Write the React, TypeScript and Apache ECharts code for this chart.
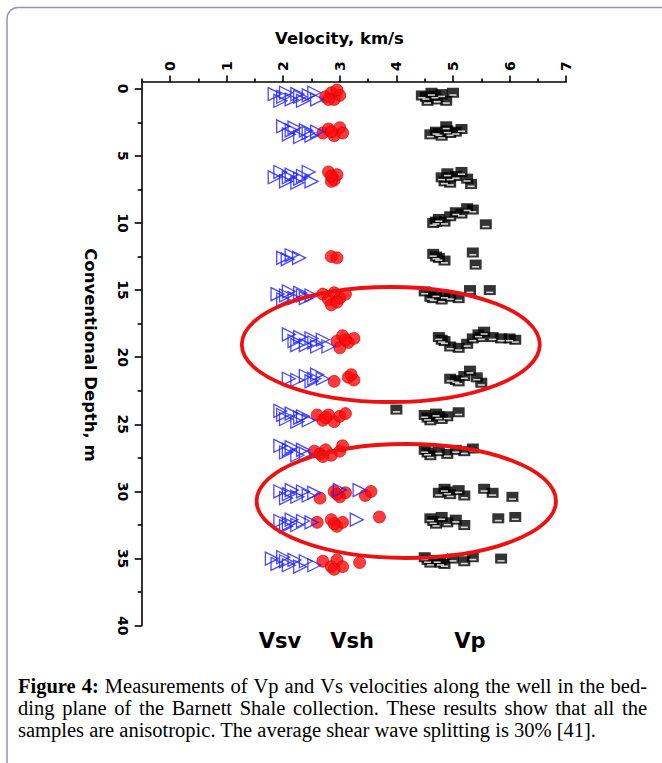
import React, { useEffect, useRef } from "react";
import * as echarts from "echarts";

// ---- axis ticks ----
const xTickValues = [0, 1, 2, 3, 4, 5, 6, 7];
const xMinorTickValues = [-0.5, 0.5, 1.5, 2.5, 3.5, 4.5, 5.5, 6.5];
const yTickValues = [0, 5, 10, 15, 20, 25, 30, 35, 40];
const yMinorTickValues = [2.5, 7.5, 12.5, 17.5, 22.5, 27.5, 32.5, 37.5];

// ---- data: [velocity km/s, depth m] ----
const vsvData: number[][] = [
  [1.85, 0.4], [1.95, 0.9], [2.05, 0.3], [2.15, 0.8], [2.25, 0.4], [2.35, 0.9], [2.45, 0.5], [2.55, 0.3], [2.6, 0.8], [2.0, 0.6], [2.3, 0.6],
  [2.0, 2.8], [2.1, 3.4], [2.2, 2.9], [2.3, 3.6], [2.4, 3.1], [2.5, 3.5], [2.6, 3.2], [2.15, 3.1], [2.45, 3.3],
  [1.85, 6.6], [1.95, 6.2], [2.05, 6.9], [2.15, 6.4], [2.25, 7.0], [2.35, 6.5], [2.45, 6.2], [2.5, 6.9], [2.1, 6.6], [2.3, 6.7],
  [2.0, 12.6], [2.15, 12.4], [2.28, 12.6], [2.08, 12.7],
  [1.9, 15.3], [2.0, 15.7], [2.1, 15.1], [2.2, 15.6], [2.3, 15.2], [2.4, 15.6], [2.5, 15.4], [2.05, 15.4], [2.35, 15.4],
  [2.1, 18.3], [2.2, 18.8], [2.3, 18.5], [2.4, 19.1], [2.5, 18.6], [2.6, 19.2], [2.7, 18.7], [2.8, 19.2], [2.25, 19.1], [2.55, 18.9],
  [2.1, 21.6], [2.25, 21.7], [2.4, 21.4], [2.5, 21.8], [2.6, 21.3], [2.7, 21.6], [2.55, 21.6],
  [1.95, 24.0], [2.05, 24.6], [2.15, 24.2], [2.25, 24.8], [2.35, 24.4], [2.45, 24.7], [2.0, 24.3], [2.3, 24.5],
  [1.95, 26.6], [2.05, 27.1], [2.15, 26.7], [2.25, 27.3], [2.35, 26.9], [2.4, 27.2], [2.1, 26.9],
  [1.95, 30.0], [2.05, 30.5], [2.15, 29.9], [2.25, 30.4], [2.35, 30.0], [2.45, 30.3], [2.55, 30.1], [3.0, 29.9], [3.35, 29.9], [2.1, 30.2],
  [1.95, 32.2], [2.05, 32.6], [2.15, 32.1], [2.25, 32.5], [2.35, 32.2], [2.5, 32.3], [3.3, 32.1], [2.1, 32.4],
  [1.8, 35.0], [1.9, 35.4], [2.0, 34.9], [2.1, 35.5], [2.2, 35.1], [2.3, 35.6], [2.4, 35.2], [2.55, 35.5], [2.05, 35.2],
];

const vshData: number[][] = [
  [2.75, 0.6], [2.85, 0.3], [2.9, 0.8], [3.0, 0.5], [2.95, 0.1], [2.8, 0.8],
  [2.7, 3.3], [2.8, 3.0], [2.9, 3.5], [3.0, 2.9], [3.05, 3.3], [2.85, 3.2],
  [2.8, 6.2], [2.9, 6.8], [2.95, 6.4], [2.85, 6.9], [2.85, 6.5],
  [2.85, 12.5], [2.95, 12.6],
  [2.7, 15.3], [2.8, 15.7], [2.9, 15.2], [3.0, 15.6], [3.1, 15.3], [2.85, 16.1], [2.95, 15.9],
  [2.95, 18.8], [3.05, 18.4], [3.15, 18.9], [3.25, 18.6], [3.0, 19.3], [3.1, 18.7],
  [2.9, 21.8], [3.15, 21.5], [3.25, 21.7], [3.2, 21.3],
  [2.6, 24.3], [2.7, 24.7], [2.8, 24.3], [2.9, 24.8], [3.0, 24.4], [3.1, 24.2], [2.75, 24.5],
  [2.55, 27.0], [2.65, 27.2], [2.75, 26.9], [2.85, 27.3], [3.0, 27.0], [3.05, 26.6], [2.7, 27.4],
  [2.65, 30.5], [2.9, 30.0], [3.0, 30.4], [3.1, 30.1], [3.45, 30.3], [3.55, 30.0], [2.95, 30.2],
  [2.6, 32.3], [2.85, 32.1], [2.95, 32.6], [3.05, 32.3], [3.7, 31.9], [2.9, 32.4],
  [2.7, 35.2], [2.85, 35.6], [2.95, 35.1], [3.05, 35.6], [3.35, 35.3], [2.9, 35.8],
];

const vpData: number[][] = [
  [4.45, 0.5], [4.55, 0.9], [4.62, 0.3], [4.72, 0.8], [4.8, 0.4], [4.88, 0.9], [5.0, 0.3], [4.52, 0.6], [4.68, 0.5],
  [4.6, 3.4], [4.7, 3.2], [4.8, 3.5], [4.88, 2.8], [4.95, 3.3], [5.05, 3.2], [5.15, 3.0], [4.75, 3.3], [4.9, 3.1],
  [4.8, 6.6], [4.9, 6.3], [4.95, 7.0], [5.05, 6.5], [5.15, 6.2], [5.25, 6.7], [5.32, 7.1], [4.85, 6.9], [4.95, 6.6],
  [4.65, 10.0], [4.75, 9.7], [4.85, 9.9], [4.95, 9.5], [5.05, 9.2], [5.15, 9.3], [5.25, 8.9], [5.35, 9.0], [5.58, 10.1], [4.7, 9.9],
  [4.65, 12.3], [4.75, 12.6], [4.85, 12.8], [5.35, 12.2], [5.4, 13.1], [4.7, 12.5],
  [4.5, 15.1], [4.6, 15.5], [4.7, 15.3], [4.8, 15.7], [4.95, 15.5], [5.1, 15.6], [5.3, 15.0], [5.65, 15.0], [4.65, 15.6], [4.85, 15.4],
  [4.75, 18.5], [4.85, 18.8], [4.95, 19.2], [5.1, 19.3], [5.25, 19.0], [5.35, 18.6], [5.45, 18.3], [5.55, 18.1], [5.7, 18.5], [5.85, 18.6], [6.0, 18.6], [6.1, 18.7], [4.8, 18.7], [5.5, 18.5],
  [4.95, 21.6], [5.1, 21.8], [5.2, 21.4], [5.3, 21.0], [5.42, 21.5], [5.5, 21.9], [5.05, 21.7],
  [4.0, 23.9], [4.5, 24.3], [4.6, 24.7], [4.7, 24.2], [4.8, 24.6], [4.9, 24.4], [5.1, 24.1], [4.55, 24.5], [4.75, 24.4],
  [4.5, 26.9], [4.6, 27.3], [4.75, 27.0], [4.9, 27.2], [5.05, 26.9], [5.2, 27.0], [5.35, 26.8], [4.55, 27.1],
  [4.75, 30.1], [4.85, 29.8], [4.95, 30.2], [5.1, 29.9], [5.2, 30.3], [5.55, 29.8], [5.7, 30.1], [6.05, 30.4], [4.9, 30.0],
  [4.6, 32.0], [4.7, 32.4], [4.8, 31.9], [4.9, 32.3], [5.05, 32.1], [5.2, 32.5], [5.8, 32.0], [6.1, 31.9], [4.65, 32.2],
  [4.5, 34.9], [4.6, 35.3], [4.72, 35.1], [4.85, 35.4], [5.0, 35.0], [5.2, 35.2], [5.35, 34.9], [5.85, 35.0], [4.55, 35.1], [4.78, 35.3],
];

// ---- texts ----
const xAxisTitle = "Velocity, km/s";
const yAxisTitle = "Conventional Depth, m";
const seriesLabels = ["Vsv", "Vsh", "Vp"];
const captionBoldWords = 2; // "Figure 4:"
const captionLines = [
  "Figure 4: Measurements of Vp and Vs velocities along the well in the bed-",
  "ding plane of the Barnett Shale collection. These results show that all the",
  "samples are anisotropic. The average shear wave splitting is 30% [41].",
];

const SANS = "DejaVu Sans";
const SERIF = "Liberation Serif";
const CAP_SIZE = 20.5;
const CAP_LEFT = 18;
const CAP_RIGHT = 647;

function buildCaption(): any[] {
  const canvas = document.createElement("canvas");
  const ctx = canvas.getContext("2d");
  const measure = (t: string, bold: boolean) => {
    if (!ctx) return t.length * CAP_SIZE * 0.45;
    ctx.font = `${bold ? "bold " : ""}${CAP_SIZE}px "${SERIF}"`;
    return ctx.measureText(t).width;
  };
  const els: any[] = [];
  captionLines.forEach((line, li) => {
    const y = 686 + li * 22;
    const words = line.split(" ");
    const isLast = li === captionLines.length - 1;
    if (isLast) {
      els.push({
        type: "text",
        x: CAP_LEFT,
        y,
        style: {
          text: line,
          font: `${CAP_SIZE}px "${SERIF}"`,
          fill: "#000",
          textAlign: "left",
          textVerticalAlign: "middle",
          align: "left",
          verticalAlign: "middle",
        },
      });
      return;
    }
    const bolds = words.map((_, wi) => li === 0 && wi < captionBoldWords);
    const widths = words.map((w, wi) => measure(w, bolds[wi]));
    const total = widths.reduce((a, b) => a + b, 0);
    const gap = (CAP_RIGHT - CAP_LEFT - total) / (words.length - 1);
    let x = CAP_LEFT;
    words.forEach((w, wi) => {
      els.push({
        type: "text",
        x,
        y,
        style: {
          text: w,
          font: `${bolds[wi] ? "bold " : ""}${CAP_SIZE}px "${SERIF}"`,
          fill: "#000",
          textAlign: "left",
          textVerticalAlign: "middle",
          align: "left",
          verticalAlign: "middle",
        },
      });
      x += widths[wi] + gap;
    });
  });
  return els;
}

export default function App() {
  const ref = useRef<HTMLDivElement>(null);

  useEffect(() => {
    if (!ref.current) return;
    const chart = echarts.init(ref.current, undefined, { renderer: "svg" });

    const labelStyle = {
      fontFamily: SANS,
      fontWeight: "bold" as const,
      fontSize: 14,
      color: "#000",
    };

    const option: any = {
      animation: false,
      backgroundColor: "#fff",
      grid: {
        left: 141.7,
        top: 82,
        width: 424.5,
        height: 543.7,
        containLabel: false,
        outerBoundsMode: "none",
      },
      xAxis: [
        {
          type: "value",
          position: "top",
          min: -0.5,
          max: 7,
          axisLine: { show: true, onZero: false, lineStyle: { color: "#000", width: 1.6 } },
          axisTick: { show: true, customValues: xTickValues, length: 6.5, lineStyle: { color: "#000", width: 1.6 } },
          axisLabel: { ...labelStyle, customValues: xTickValues, rotate: -90, margin: 11 },
          splitLine: { show: false },
        },
        {
          type: "value",
          position: "top",
          min: -0.5,
          max: 7,
          axisLine: { show: false, onZero: false },
          axisTick: { show: true, customValues: xMinorTickValues, length: 3.5, lineStyle: { color: "#000", width: 1.6 } },
          axisLabel: { show: false },
          splitLine: { show: false },
        },
      ],
      yAxis: [
        {
          type: "value",
          position: "left",
          inverse: true,
          min: -0.5,
          max: 40,
          axisLine: { show: true, onZero: false, lineStyle: { color: "#000", width: 1.6 } },
          axisTick: { show: true, customValues: yTickValues, length: 7, lineStyle: { color: "#000", width: 1.6 } },
          axisLabel: { ...labelStyle, customValues: yTickValues, rotate: -90, margin: 12 },
          splitLine: { show: false },
        },
        {
          type: "value",
          position: "left",
          inverse: true,
          min: -0.5,
          max: 40,
          axisLine: { show: false, onZero: false },
          axisTick: { show: true, customValues: yMinorTickValues, length: 4, lineStyle: { color: "#000", width: 1.6 } },
          axisLabel: { show: false },
          splitLine: { show: false },
        },
      ],
      series: [
        {
          type: "scatter",
          name: "Vp",
          data: vpData,
          symbol: "rect",
          symbolSize: [12, 10],
          itemStyle: { color: "#000" },
          z: 2,
        },
        {
          type: "scatter",
          name: "Vp",
          data: vpData,
          symbol: "rect",
          symbolSize: [7, 1.6],
          symbolOffset: [0, 2.3],
          itemStyle: { color: "#fff" },
          z: 3,
          silent: true,
        },
        {
          type: "scatter",
          name: "Vsh",
          data: vshData,
          symbol: "circle",
          symbolSize: 12,
          itemStyle: { color: "#ff0a0a", borderColor: "#c80000", borderWidth: 0.8 },
          z: 4,
        },
        {
          type: "scatter",
          name: "Vsv",
          data: vsvData,
          symbol: "triangle",
          symbolRotate: -90,
          symbolSize: 13,
          itemStyle: { color: "rgba(255,255,255,0)", borderColor: "#1e1eff", borderWidth: 1.3 },
          z: 5,
        },
      ],
      graphic: [
        {
          type: "rect",
          shape: { x: 7, y: 7.5, width: 700, height: 800, r: 11 },
          style: { fill: "none", stroke: "#9591c6", lineWidth: 1.5 },
          silent: true,
          z: 0,
        },
        {
          type: "text",
          x: 339.5,
          y: 38,
          style: {
            text: xAxisTitle,
            font: `bold 16.5px "${SANS}"`,
            fill: "#000",
            textAlign: "center",
            textVerticalAlign: "middle",
            align: "center",
            verticalAlign: "middle",
          },
        },
        {
          type: "text",
          x: 90,
          y: 355,
          rotation: -Math.PI / 2,
          style: {
            text: yAxisTitle,
            font: `bold 16.5px "${SANS}"`,
            fill: "#000",
            textAlign: "center",
            textVerticalAlign: "middle",
            align: "center",
            verticalAlign: "middle",
          },
        },
        ...seriesLabels.map((t, i) => ({
          type: "text",
          x: [280, 352, 470][i],
          y: 641,
          style: {
            text: t,
            font: `bold 21px "${SANS}"`,
            fill: "#000",
            textAlign: "center",
            textVerticalAlign: "middle",
            align: "center",
            verticalAlign: "middle",
          },
        })),
        {
          type: "ellipse",
          shape: { cx: 390.8, cy: 344.5, rx: 149, ry: 57.5 },
          style: { fill: "none", stroke: "#ee1111", lineWidth: 3.8 },
          z: 100,
        },
        {
          type: "ellipse",
          shape: { cx: 406.3, cy: 501, rx: 149.7, ry: 57 },
          style: { fill: "none", stroke: "#ee1111", lineWidth: 3.8 },
          z: 100,
        },
        ...buildCaption(),
      ],
    };

    chart.setOption(option);
    return () => chart.dispose();
  }, []);

  return (
    <div
      ref={ref}
      style={{ position: "fixed", left: 0, top: 0, width: 662, height: 763, background: "#fff" }}
    />
  );
}
